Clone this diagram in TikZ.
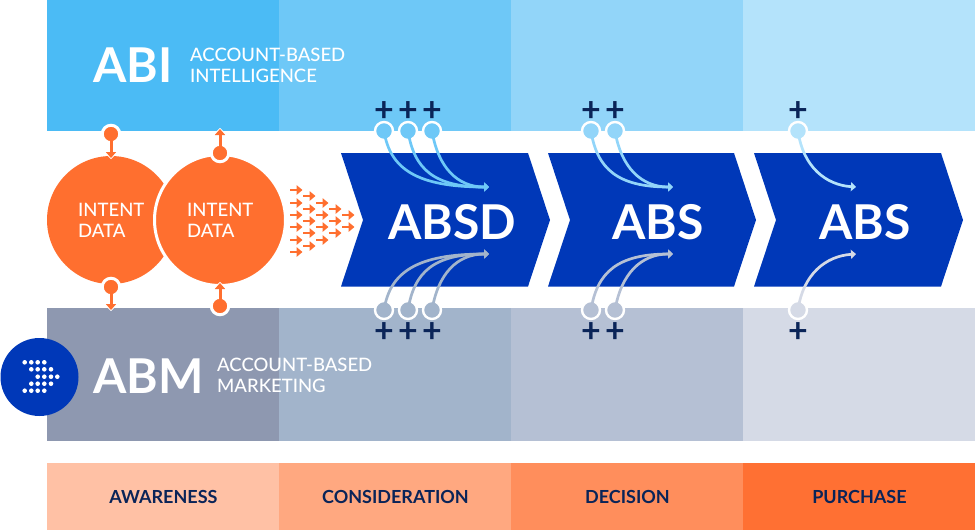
\documentclass[tikz,border=0pt]{standalone}
\usepackage{fontspec}
\setmainfont{Lato}
\newfontfamily\medfont{Lato Medium}
\usetikzlibrary{arrows.meta}
\definecolor{abiA}{HTML}{4BBBF5}
\definecolor{abiB}{HTML}{6EC8F7}
\definecolor{abiC}{HTML}{92D5F9}
\definecolor{abiD}{HTML}{B4E3FB}
\definecolor{abmA}{HTML}{8E98B0}
\definecolor{abmB}{HTML}{A2B4CB}
\definecolor{abmC}{HTML}{B5C0D4}
\definecolor{abmD}{HTML}{D5DAE6}
\definecolor{stageA}{HTML}{FFC1A5}
\definecolor{stageB}{HTML}{FFA880}
\definecolor{stageC}{HTML}{FF8E5C}
\definecolor{stageD}{HTML}{FF7033}
\definecolor{intent}{HTML}{FF6F2F}
\definecolor{chevron}{HTML}{0038B8}
\definecolor{navy}{HTML}{0A2458}
\tikzset{
  band/.style={rectangle,anchor=north west,inner sep=0pt,minimum width=232.5pt,minimum height=#1},
  stagetext/.style={text=navy,font=\bfseries\fontsize{18}{18}\selectfont},
  bigtext/.style={text=white,font=\bfseries\fontsize{48}{48}\selectfont},
  longname/.style={text=white,anchor=west,align=left,inner sep=0pt,font=\medfont\fontsize{18.5}{21}\selectfont},
  intentdata/.style={text=white,anchor=west,align=left,inner sep=0pt,font=\medfont\fontsize{18.5}{21}\selectfont},
  orangepin/.style={circle,draw=white,line width=3pt,fill=intent,inner sep=0pt,minimum size=17.5pt},
  lightpin/.style={circle,draw=white,line width=2.4pt,fill=#1,inner sep=0pt,minimum size=18pt},
  plusmark/.style={text=navy,inner sep=0pt,font=\bfseries\fontsize{34}{34}\selectfont},
  pinback/.style={-{Triangle[length=8pt,width=17pt]},white,line width=1pt,shorten >=-1pt},
  pinfront/.style={-{Triangle[length=6pt,width=10pt]},intent,line width=3pt},
  curved/.style={-{Triangle[length=5pt,width=9pt]},#1,line width=2.7pt},
  smallarrow/.style={-{Triangle[length=6pt,width=9.5pt]},intent,line width=2.8pt}
}
\begin{document}
\begin{tikzpicture}[x=1pt,y=-1pt]
  \useasboundingbox (0,0) rectangle (975,531);
  \node[band=131pt,fill=abiA] (abi1) at (47,0) {};
  \node[band=131pt,fill=abiB] (abi2) at (279,0) {};
  \node[band=131pt,fill=abiC] (abi3) at (511,0) {};
  \node[band=131pt,fill=abiD] (abi4) at (743,0) {};
  \node[band=133pt,fill=abmA] (abm1) at (47,308) {};
  \node[band=133pt,fill=abmB] (abm2) at (279,308) {};
  \node[band=133pt,fill=abmC] (abm3) at (511,308) {};
  \node[band=133pt,fill=abmD] (abm4) at (743,308) {};
  \node[band=67pt,fill=stageA,stagetext] (awareness) at (47,463) {AWARENESS};
  \node[band=67pt,fill=stageB,stagetext] (consideration) at (279,463) {CONSIDERATION};
  \node[band=67pt,fill=stageC,stagetext] (decision) at (511,463) {DECISION};
  \node[band=67pt,fill=stageD,stagetext] (purchase) at (743,463) {PURCHASE};

  \node[bigtext,anchor=west,inner sep=0pt] (abi) at (93,65) {ABI};
  \node[longname] (abilong) at (190,65.5) {ACCOUNT-BASED\\INTELLIGENCE};
  \node[bigtext,anchor=west,inner sep=0pt] (abm) at (93,376) {ABM};
  \node[longname] (abmlong) at (217,375.5) {ACCOUNT-BASED\\MARKETING};

  \node[circle,fill=chevron,inner sep=0pt,minimum size=78pt] (logo) at (39.5,377) {};
  \foreach \y/\xs in {362.3/{24.7,31.3,37.7,44.3},369.3/{31.3,37.7,44.3,51},376.7/{37.7,44.3,51,57.3},383.7/{31.3,37.7,44.3,51},390.7/{24.7,31.3,37.7,44.3}}
    \foreach \x in \xs
      \fill[white] (\x,\y) circle (2.3pt);

  \node[circle,fill=intent,inner sep=0pt,minimum size=128pt] (intent1) at (111,220) {};
  \node[circle,fill=intent,draw=white,line width=3pt,inner sep=0pt,minimum size=131pt] (intent2) at (220,220) {};
  \node[intentdata] (intenttext1) at (78,220.5) {INTENT\\DATA};
  \node[intentdata] (intenttext2) at (187,220.5) {INTENT\\DATA};

  \node[orangepin] (pin1) at (111,134) {};
  \node[orangepin] (pin2) at (220,153) {};
  \node[orangepin] (pin3) at (111,287) {};
  \node[orangepin] (pin4) at (220,306) {};
  \coordinate (tip1) at (111,158);
  \coordinate (tip2) at (220,129);
  \coordinate (tip3) at (111,310);
  \coordinate (tip4) at (220,283);
  \foreach \a in {1,2,3,4} {
    \draw[pinback] (pin\a.center)--(tip\a);
    \draw[pinfront] (pin\a.center)--(tip\a);
  }

  \foreach \x/\ys in {290/{190,203,215,227,240,252},303/{196,209,221,233,246},316/{203,215,227,240},329/{209,221,233},342/{215,227}}
    \foreach \y in \ys
      \draw[smallarrow] (\x,\y)--(\x+12.5,\y);

  \fill[chevron] (341,153)--(528,153)--(550,220)--(528,286.5)--(341,286.5)--(363,220)--cycle;
  \fill[chevron] (548,153)--(734,153)--(756,220)--(734,286.5)--(548,286.5)--(570,220)--cycle;
  \fill[chevron] (754,153)--(941,153)--(963,220)--(941,286.5)--(754,286.5)--(776,220)--cycle;
  \node[bigtext] (absd) at (452,222) {ABSD};
  \node[bigtext] (abs1) at (658,222) {ABS};
  \node[bigtext] (abs2) at (865,222) {ABS};

  \coordinate (end1) at (489,187);
  \coordinate (end2) at (673,187);
  \coordinate (end3) at (856,187);
  \coordinate (end4) at (489,254);
  \coordinate (end5) at (673,254);
  \coordinate (end6) at (856,254);

  \foreach \a/\x/\col in {1/384/abiB,2/408/abiB,3/432/abiB,4/591/abiC,5/615/abiC,6/798/abiD}
    \node[lightpin=\col] (top\a) at (\x,131) {};
  \foreach \a/\x/\col in {1/384/abmB,2/408/abmB,3/432/abmB,4/591/abmC,5/615/abmC,6/798/abmD}
    \node[lightpin=\col] (bot\a) at (\x,310) {};
  \foreach \a/\x in {1/384,2/408,3/432,4/591,5/615,6/798} {
    \node[plusmark] (plustop\a) at (\x,112) {+};
    \node[plusmark] (plusbot\a) at (\x,332.5) {+};
  }

  \draw[curved=abiB] (top1.center) .. controls +(6,38) and +(-72,0) .. (end1);
  \draw[curved=abiB] (top2.center) .. controls +(6,38) and +(-55,0) .. (end1);
  \draw[curved=abiB] (top3.center) .. controls +(6,36) and +(-32,0) .. (end1);
  \draw[curved=abiC] (top4.center) .. controls +(6,38) and +(-55,0) .. (end2);
  \draw[curved=abiC] (top5.center) .. controls +(6,36) and +(-32,0) .. (end2);
  \draw[curved=abiD] (top6.center) .. controls +(5,36) and +(-30,-2) .. (end3);
  \draw[curved=abmB] (bot1.center) .. controls +(6,-38) and +(-72,0) .. (end4);
  \draw[curved=abmB] (bot2.center) .. controls +(6,-38) and +(-55,0) .. (end4);
  \draw[curved=abmB] (bot3.center) .. controls +(6,-36) and +(-32,0) .. (end4);
  \draw[curved=abmC] (bot4.center) .. controls +(6,-38) and +(-55,0) .. (end5);
  \draw[curved=abmC] (bot5.center) .. controls +(6,-36) and +(-32,0) .. (end5);
  \draw[curved=abmD] (bot6.center) .. controls +(5,-36) and +(-30,2) .. (end6);
\end{tikzpicture}
\end{document}
